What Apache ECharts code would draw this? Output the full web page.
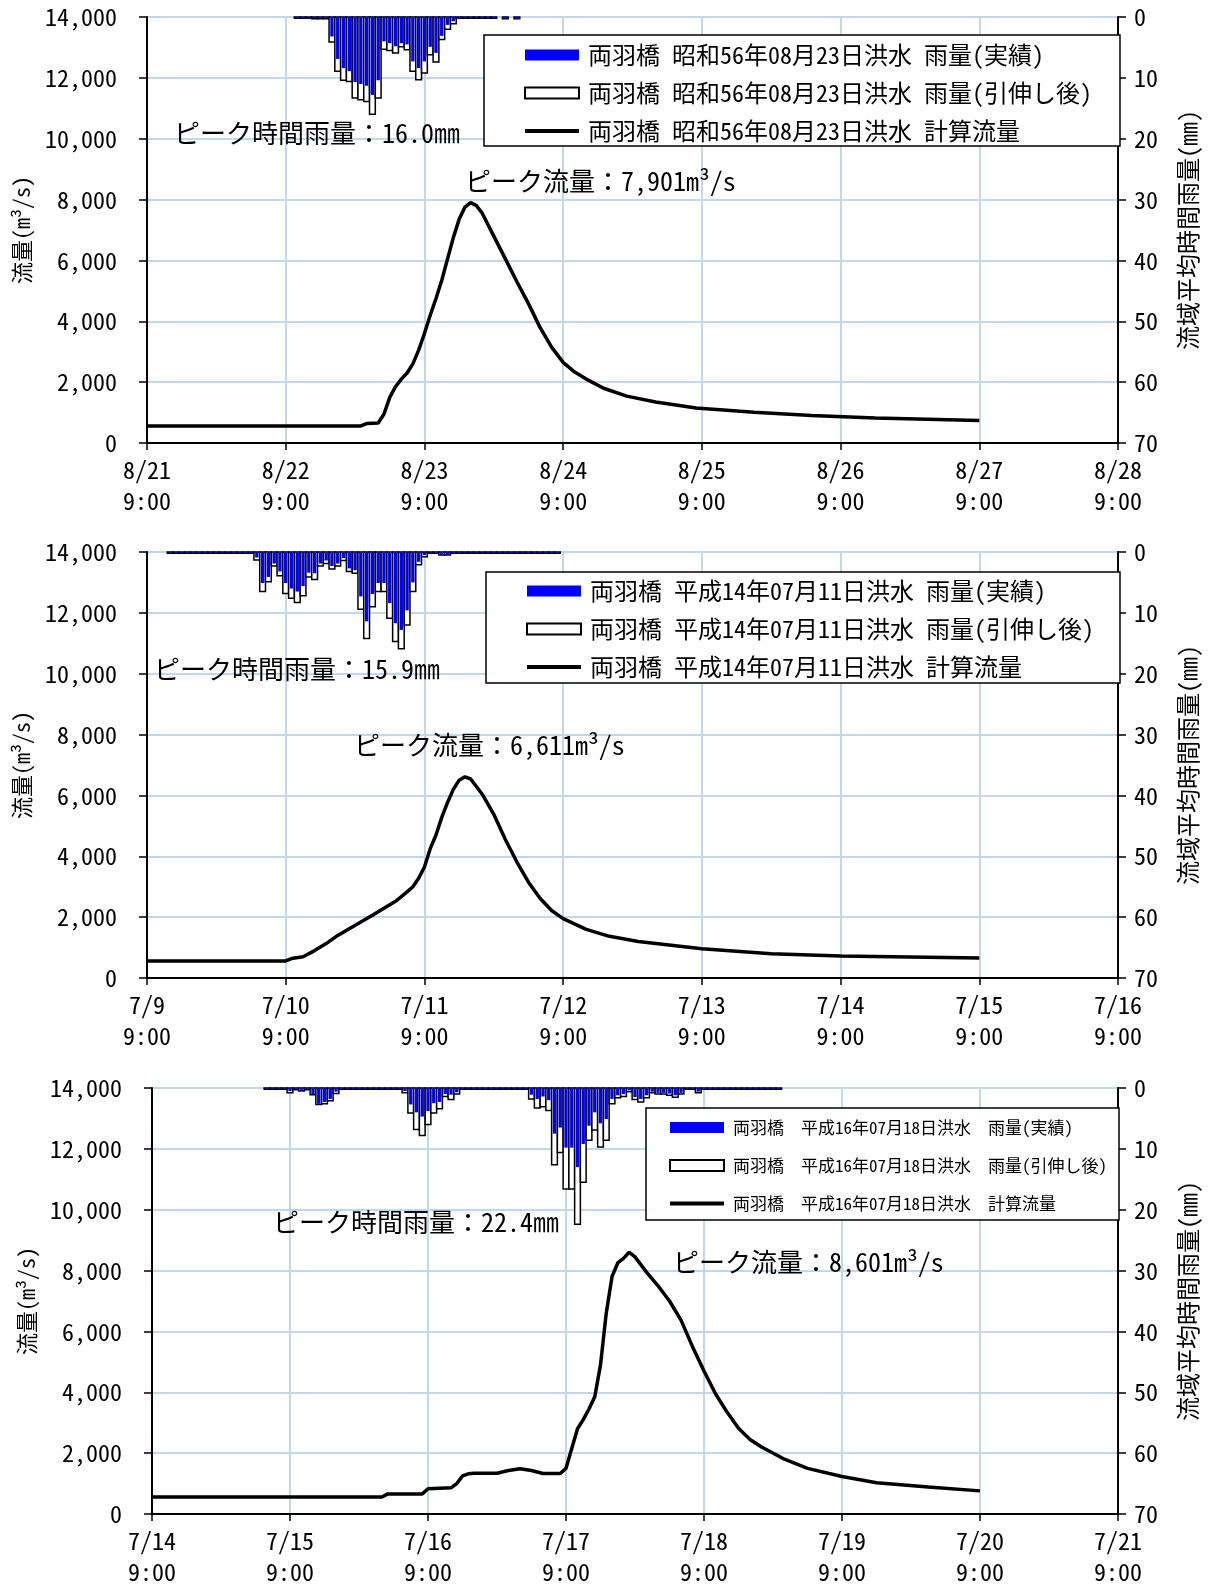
<!DOCTYPE html>
<html>
<head>
<meta charset="utf-8">
<script src="https://cdn.jsdelivr.net/npm/echarts@6/dist/echarts.min.js"></script>
<style>
html,body{margin:0;padding:0;background:#fff}
#chart{width:1208px;height:1587px}
</style>
</head>
<body>
<div id="chart"></div>
<script>
// 両羽橋 洪水再現計算：流量ハイドログラフと流域平均時間雨量（3洪水）

const STATION = '両羽橋';
const eventNames = ['昭和56年08月23日洪水', '平成14年07月11日洪水', '平成16年07月18日洪水'];
const rainActualSuffix = '雨量(実績)';
const rainStretchedSuffix = '雨量(引伸し後)';
const flowSuffix = '計算流量';

// x軸目盛ラベル（各日 9:00）
const dayLabels1 = ['8/21', '8/22', '8/23', '8/24', '8/25', '8/26', '8/27', '8/28'];
const dayLabels2 = ['7/9', '7/10', '7/11', '7/12', '7/13', '7/14', '7/15', '7/16'];
const dayLabels3 = ['7/14', '7/15', '7/16', '7/17', '7/18', '7/19', '7/20', '7/21'];
const timeLabel = '9:00';

// ---- 昭和56年08月23日洪水 ----
// 時間雨量(mm)：rainStart1 時間目から1時間毎
const rainStart1 = 26;
const rainStretched1 = [0.2, 0.2, 0.2, 0.3, 0.3, 0.3,
  4.1, 8.9, 10.4, 10.6, 13.3, 13.6, 13.9, 16.0, 13.3, 5.3, 5.5, 5.9, 4.9, 5.4,
  8.9, 10.3, 9.2, 6.2, 7.4, 3.7, 2.0, 1.1,
  0.2, 0.2, 0.2, 0.2, 0.2, 0.2, 0.2, 0, 0.3, 0, 0.3];
const rainActual1 = [0.2, 0.2, 0.2, 0.2, 0.2, 0.2,
  3.2, 6.9, 8.4, 8.9, 10.7, 11.0, 11.3, 12.8, 10.4, 4.0, 4.3, 4.8, 4.3, 4.5,
  7.3, 8.4, 7.3, 4.9, 5.9, 3.1, 1.3, 0.7,
  0.2, 0.2, 0.2, 0.2, 0.2, 0.2, 0.2, 0, 0.3, 0, 0.3];
// 計算流量(m3/s)：経過時間(h)と流量
const flowHours1 = [0, 37, 38, 40, 41, 42, 43, 44, 45, 46, 47, 48, 49, 50, 51, 52, 53, 54, 55, 56, 57, 58,
  60, 62, 64, 66, 68, 70, 72, 74, 76, 79, 83, 88, 95, 105, 115, 126, 144];
const flowValues1 = [560, 560, 640, 660, 950, 1500, 1850, 2100, 2300, 2600, 3050, 3600, 4200, 4750, 5350, 6050, 6750, 7350, 7750, 7901, 7800, 7550,
  6800, 6050, 5300, 4580, 3800, 3150, 2650, 2330, 2100, 1800, 1540, 1350, 1150, 1010, 900, 820, 740];

// ---- 平成14年07月11日洪水 ----
const rainStart2 = 4;
const rainStretched2 = [0.2, 0.2, 0.2, 0.2, 0.2, 0.2, 0.2, 0.2, 0.2, 0.2, 0.2, 0.2, 0.2, 0.2, 0.2,
  1.3, 6.5, 4.9, 2.3, 3.9, 6.8, 7.6, 8.3, 7.2, 4.1, 4.5, 2.3, 1.9, 2.8, 2.3, 1.4, 3.2, 3.5,
  9.4, 14.2, 9.0, 6.5, 6.5, 10.9, 14.7, 15.9, 12.0, 6.5, 2.1, 0.8,
  0.2, 0.2, 0.5, 0.5, 0.2, 0.2, 0.2, 0.2, 0.2, 0.2, 0.2, 0.2, 0.2, 0.2, 0.2, 0.2, 0.2, 0.2, 0.2, 0.2, 0.2, 0.2, 0.2];
const rainActual2 = [0.2, 0.2, 0.2, 0.2, 0.2, 0.2, 0.2, 0.2, 0.2, 0.2, 0.2, 0.2, 0.2, 0.2, 0.2,
  0.9, 5.1, 4.1, 1.9, 3.2, 5.1, 6.0, 6.5, 5.6, 3.4, 3.5, 1.9, 1.4, 2.3, 1.9, 1.0, 2.7, 3.0,
  7.3, 11.4, 6.9, 5.1, 5.1, 8.4, 11.7, 12.8, 9.6, 5.0, 1.6, 0.5,
  0.2, 0.2, 0.5, 0.5, 0.2, 0.2, 0.2, 0.2, 0.2, 0.2, 0.2, 0.2, 0.2, 0.2, 0.2, 0.2, 0.2, 0.2, 0.2, 0.2, 0.2, 0.2, 0.2];
const flowHours2 = [0, 24, 25, 27, 29, 31, 33, 35, 37, 39, 41, 43, 45, 46, 47, 48, 49, 50, 51, 52, 53, 54, 55, 56, 58,
  60, 62, 64, 66, 68, 70, 72, 76, 80, 85, 96, 108, 120, 144];
const flowValues2 = [560, 560, 640, 700, 900, 1130, 1400, 1620, 1840, 2060, 2290, 2520, 2830, 3000, 3280, 3650, 4250, 4700, 5280, 5770, 6200, 6500, 6611, 6540, 6040,
  5380, 4550, 3810, 3150, 2620, 2220, 1950, 1600, 1370, 1200, 960, 800, 720, 660];

// ---- 平成16年07月18日洪水 ----
const rainStart3 = 20;
const rainStretched3 = [0.2, 0.2, 0.2, 0.2,
  0.8, 0.3, 0.5, 0.3, 1.1, 2.7, 2.6, 2.1, 0.9,
  0.2, 0.2, 0.2, 0.2, 0.2, 0.2, 0.2, 0.2, 0.2, 0.2, 0.2,
  0.8, 4.1, 6.8, 7.8, 6.0, 4.1, 3.4, 1.4, 1.9, 1.0,
  0.2, 0.2, 0.2, 0.2, 0.2, 0.2, 0.2, 0.2, 0.2, 0.2, 0.2, 0.2,
  1.8, 3.3, 3.1, 3.7, 12.6, 10.6, 16.6, 16.6, 22.4, 15.5, 8.6, 6.9, 9.7, 8.6,
  2.6, 1.6, 1.4, 0.6, 1.9, 2.3, 1.6, 0.8, 1.0, 1.0, 1.2, 1.5, 1.0,
  0.2, 0.2, 0.8, 0.2, 0.2, 0.2, 0.2, 0.2, 0.2, 0.2, 0.2, 0.2, 0.2, 0.2, 0.2, 0.2, 0.2];
const rainActual3 = [0.2, 0.2, 0.2, 0.2,
  0.5, 0.2, 0.4, 0.2, 1.0, 2.6, 2.3, 1.8, 0.6,
  0.2, 0.2, 0.2, 0.2, 0.2, 0.2, 0.2, 0.2, 0.2, 0.2, 0.2,
  0.5, 2.7, 4.0, 4.7, 3.8, 2.5, 2.3, 1.0, 1.1, 0.7,
  0.2, 0.2, 0.2, 0.2, 0.2, 0.2, 0.2, 0.2, 0.2, 0.2, 0.2, 0.2,
  1.1, 1.8, 1.4, 2.0, 7.5, 6.5, 9.8, 9.8, 13.0, 9.2, 6.2, 4.0, 5.8, 5.1,
  1.8, 1.2, 1.0, 0.4, 1.5, 1.8, 1.2, 0.6, 0.8, 0.8, 0.9, 1.2, 0.8,
  0.2, 0.2, 0.6, 0.2, 0.2, 0.2, 0.2, 0.2, 0.2, 0.2, 0.2, 0.2, 0.2, 0.2, 0.2, 0.2, 0.2];
const flowHours3 = [0, 40, 41, 47, 48, 52, 53, 54, 55, 56, 60, 62, 64, 66, 68, 71, 72, 73, 74, 75, 76, 77, 78, 79, 80, 81, 82, 83, 84,
  86, 88, 90, 92, 94, 96, 98, 100, 102, 104, 106, 110, 114, 120, 126, 135, 144];
const flowValues3 = [560, 560, 660, 660, 830, 860, 1000, 1250, 1320, 1340, 1340, 1430, 1490, 1430, 1330, 1330, 1500, 2150, 2800, 3100, 3450, 3850, 4900, 6600, 7800, 8250, 8400, 8601, 8450,
  7950, 7500, 7000, 6370, 5500, 4700, 3950, 3350, 2820, 2450, 2200, 1800, 1500, 1230, 1030, 890, 760];

const panels = [
  { event: eventNames[0], days: dayLabels1, rainStart: rainStart1, stretched: rainStretched1, actual: rainActual1, flowHours: flowHours1, flowValues: flowValues1 },
  { event: eventNames[1], days: dayLabels2, rainStart: rainStart2, stretched: rainStretched2, actual: rainActual2, flowHours: flowHours2, flowValues: flowValues2 },
  { event: eventNames[2], days: dayLabels3, rainStart: rainStart3, stretched: rainStretched3, actual: rainActual3, flowHours: flowHours3, flowValues: flowValues3 }
];

// 配置・体裁
const FONT = '"Noto Sans Mono CJK JP", "Noto Sans CJK JP", "Noto Sans", sans-serif';
const GRID_COLOR = '#c3d7ea';
const layouts = [
  { left: 147, right: 88, top: 17, height: 426, sep: ' ',
    legend: { left: 484, top: 35, padding: [8, 28, 3, 39], fontSize: 24, itemGap: 14 },
    rainNote: { left: 174, top: 120 }, flowNote: { left: 465, top: 168 } },
  { left: 147, right: 88, top: 552, height: 426, sep: ' ',
    legend: { left: 486, top: 572, padding: [7, 26, 4, 39], fontSize: 24, itemGap: 14 },
    rainNote: { left: 154, top: 656 }, flowNote: { left: 354, top: 732 } },
  { left: 152, right: 87, top: 1088, height: 426, sep: '  ',
    legend: { left: 646, top: 1108, padding: [11, 12, 8, 22], fontSize: 17, itemGap: 21 },
    rainNote: { left: 273, top: 1209 }, flowNote: { left: 673, top: 1249 } }
];

function withComma(v) {
  return String(v).replace(/\B(?=(\d{3})+(?!\d))/g, ',');
}

function rainBar(fill, stroke, lineWidth, inset) {
  return function (params, api) {
    const h = api.value(0);
    const v = api.value(1);
    if (!(v > 0)) return null;
    const a = api.coord([h - 0.5, 0]);
    const b = api.coord([h + 0.5, v]);
    return {
      type: 'rect',
      shape: { x: a[0] + inset, y: a[1], width: b[0] - a[0] - 2 * inset, height: b[1] - a[1] },
      style: { fill: fill, stroke: stroke, lineWidth: lineWidth }
    };
  };
}

const option = {
  backgroundColor: '#fff',
  animation: false,
  grid: [], xAxis: [], yAxis: [], legend: [], series: [], graphic: []
};

panels.forEach(function (p, i) {
  const L = layouts[i];
  const head = STATION + L.sep + p.event + L.sep;
  const nameActual = head + rainActualSuffix;
  const nameStretched = head + rainStretchedSuffix;
  const nameFlow = head + flowSuffix;

  option.grid.push({
    left: L.left, right: L.right, top: L.top, height: L.height,
    show: true, borderColor: '#000', borderWidth: 1.5, backgroundColor: 'transparent'
  });

  option.xAxis.push({
    type: 'value', gridIndex: i, min: 0, max: 168, interval: 24,
    axisLine: { show: true, onZero: false, lineStyle: { color: '#000', width: 2 } },
    axisTick: { show: true, inside: false, length: 7, lineStyle: { color: '#000', width: 1.5 } },
    splitLine: { show: true, lineStyle: { color: GRID_COLOR, width: 2 } },
    axisLabel: {
      color: '#000', fontFamily: FONT, fontSize: 24, lineHeight: 31, margin: 11,
      formatter: function (v) { return p.days[Math.round(v / 24)] + '\n' + timeLabel; }
    }
  });

  option.yAxis.push({
    type: 'value', gridIndex: i, min: 0, max: 14000, interval: 2000, position: 'left',
    name: '流量(m³/s)', nameLocation: 'middle', nameRotate: 90, nameGap: 114,
    nameTextStyle: { color: '#000', fontFamily: FONT, fontSize: 22 },
    axisLine: { show: true, onZero: false, lineStyle: { color: '#000', width: 2 } },
    axisTick: { show: true, inside: false, length: 8, lineStyle: { color: '#000', width: 1.5 } },
    splitLine: { show: true, lineStyle: { color: GRID_COLOR, width: 2 } },
    axisLabel: { color: '#000', fontFamily: FONT, fontSize: 24, margin: 30, formatter: withComma }
  });

  option.yAxis.push({
    type: 'value', gridIndex: i, min: 0, max: 70, interval: 10, inverse: true, position: 'right',
    name: '流域平均時間雨量(㎜)', nameLocation: 'middle', nameRotate: 90, nameGap: 58,
    nameTextStyle: { color: '#000', fontFamily: FONT, fontSize: 24 },
    axisLine: { show: true, onZero: false, lineStyle: { color: '#000', width: 2 } },
    axisTick: { show: true, inside: false, length: 8, lineStyle: { color: '#000', width: 1.5 } },
    splitLine: { show: false },
    axisLabel: { color: '#000', fontFamily: FONT, fontSize: 24, margin: 16 }
  });

  option.legend.push({
    orient: 'vertical', left: L.legend.left, top: L.legend.top,
    padding: L.legend.padding, itemGap: L.legend.itemGap,
    itemWidth: 54, itemHeight: 11, selectedMode: false,
    backgroundColor: '#fff', borderColor: '#000', borderWidth: 1.5, borderRadius: 0,
    textStyle: { color: '#000', fontFamily: FONT, fontSize: L.legend.fontSize, padding: [0, 0, 0, 4] },
    data: [
      { name: nameActual, icon: 'rect', itemStyle: { color: '#0000ff', borderWidth: 0 } },
      { name: nameStretched, icon: 'rect', itemStyle: { color: '#ffffff', borderColor: '#000', borderWidth: 2 } },
      { name: nameFlow, itemStyle: { opacity: 0, color: 'rgba(0,0,0,0)', borderWidth: 0 },
        lineStyle: { color: '#000', width: 4, opacity: 1 } }
    ]
  });

  const yFlow = 2 * i;
  const yRain = 2 * i + 1;

  option.series.push({
    name: nameStretched, type: 'custom', xAxisIndex: i, yAxisIndex: yRain, z: 2,
    itemStyle: { color: '#ffffff', borderColor: '#000', borderWidth: 2 },
    renderItem: rainBar('#ffffff', '#000', 1.5, 0),
    encode: { x: 0, y: 1 },
    data: p.stretched.map(function (v, k) { return [p.rainStart + k, v]; })
  });
  option.series.push({
    name: nameActual, type: 'custom', xAxisIndex: i, yAxisIndex: yRain, z: 3,
    itemStyle: { color: '#0000ff' },
    renderItem: rainBar('#0000ff', null, 0, 1.2),
    encode: { x: 0, y: 1 },
    data: p.actual.map(function (v, k) { return [p.rainStart + k, v]; })
  });
  option.series.push({
    name: nameFlow, type: 'line', xAxisIndex: i, yAxisIndex: yFlow, z: 5,
    symbol: 'none', color: '#000',
    lineStyle: { color: '#000', width: 3.5 },
    data: p.flowHours.map(function (h, k) { return [h, p.flowValues[k]]; })
  });

  // ピーク値の注記（データから算出）
  const peakRain = Math.max.apply(null, p.stretched);
  const peakFlow = Math.max.apply(null, p.flowValues);
  option.graphic.push({
    type: 'text', left: L.rainNote.left, top: L.rainNote.top, z: 10,
    style: { text: 'ピーク時間雨量：' + peakRain.toFixed(1) + '㎜', fill: '#000', font: '26px ' + FONT }
  });
  option.graphic.push({
    type: 'text', left: L.flowNote.left, top: L.flowNote.top, z: 10,
    style: { text: 'ピーク流量：' + withComma(peakFlow) + 'm³/s', fill: '#000', font: '26px ' + FONT }
  });
});

const chart = echarts.init(document.getElementById('chart'), null, { renderer: 'canvas' });
chart.setOption(option);
</script>
</body>
</html>
